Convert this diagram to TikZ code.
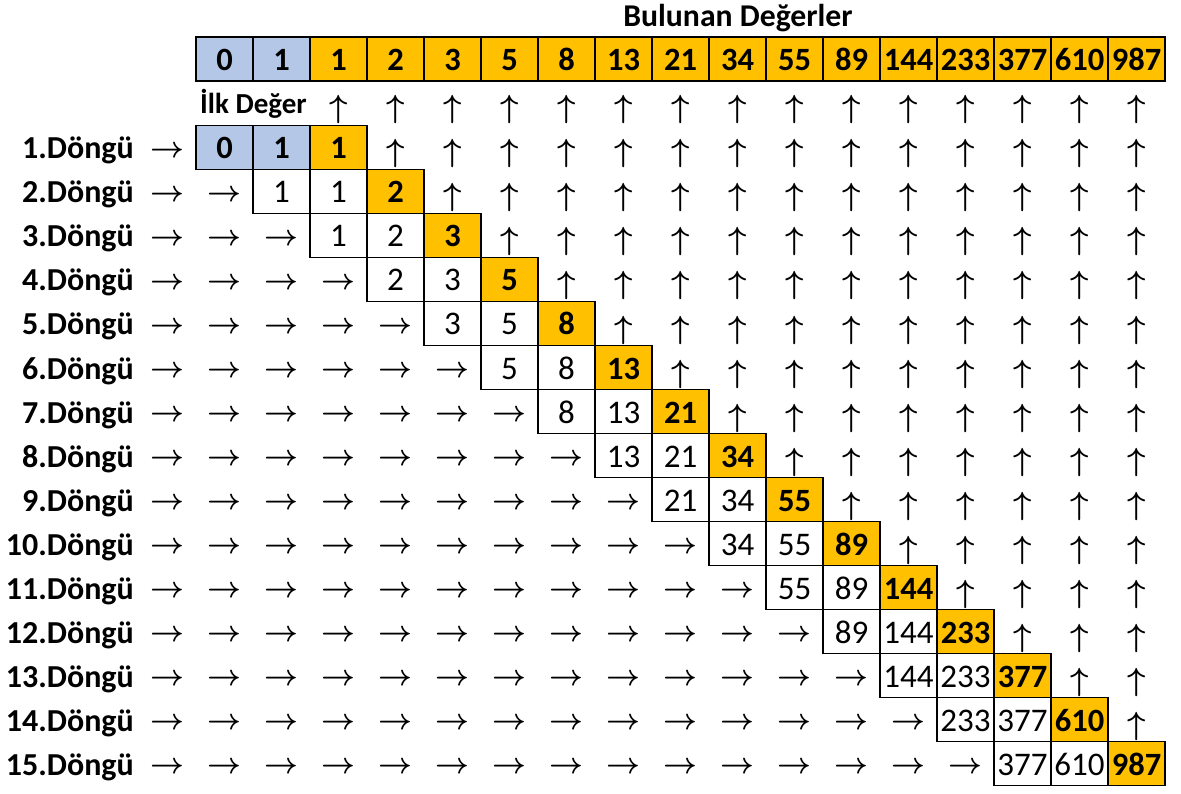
\documentclass[tikz,border=0pt]{standalone}
\usepackage{graphicx}
\usepackage{fontspec}
\setmainfont{Carlito}
\definecolor{cblue}{HTML}{B4C7E7}
\definecolor{corange}{HTML}{FFC000}
\newcommand{\rarr}{\scalebox{2.95}{\boldmath$\rightarrow$}}
\newcommand{\uarr}{\scalebox{3.2}{\boldmath$\uparrow$}}
\tikzset{
  cell/.style={draw=black, line width=1.3pt, minimum width=57pt, minimum height=44pt,
    inner sep=0pt, text height=23pt, text depth=0pt, font=\fontsize{33}{33}\selectfont},
  bluecell/.style={cell, fill=cblue, font=\fontsize{32.5}{32.5}\selectfont\bfseries},
  orangecell/.style={cell, fill=corange, font=\fontsize{32.5}{32.5}\selectfont\bfseries},
  lab/.style={inner sep=0pt, anchor=base east, font=\fontsize{32}{32}\selectfont\bfseries},
  arr/.style={inner sep=0pt, font=\normalsize},
}
\begin{document}
\begin{tikzpicture}[x=1pt,y=-1pt]
\useasboundingbox (0,0) rectangle (1181,794);
\node[inner sep=0pt, anchor=base, font=\fontsize{31.7}{31.7}\selectfont\bfseries] (title) at (738,27) {Bulunan Değerler};
% top bar
\foreach \v [count=\i from 0] in {0,1,1,2,3,5,8,13,21,34,55,89,144,233,377,610,987}{
  \pgfmathsetmacro\cx{224.5+57*\i}
  \ifnum\i<2
    \node[bluecell] (t\i) at (\cx,59) {\v};
  \else
    \node[orangecell] (t\i) at (\cx,59) {\v};
  \fi
}
\node[inner sep=0pt, anchor=base west, font=\fontsize{29}{29}\selectfont\bfseries] (ilk) at (200,114) {İlk Değer};
% rows
\foreach \a/\b/\c [count=\k] in {0/1/1,1/1/2,1/2/3,2/3/5,3/5/8,5/8/13,8/13/21,13/21/34,21/34/55,34/55/89,55/89/144,89/144/233,144/233/377,233/377/610,377/610/987}{
  \pgfmathsetmacro\cy{147.5+44*(\k-1)}
  \pgfmathsetmacro\xa{224.5+57*(\k-1)}
  \pgfmathsetmacro\xb{224.5+57*\k}
  \pgfmathsetmacro\xc{224.5+57*(\k+1)}
  \pgfmathsetmacro\by{\cy+11.5}
  \node[lab] (lab\k) at (134,\by) {\k.Döngü};
  \ifnum\k=1
    \node[bluecell] (r\k-1) at (\xa,\cy) {\a};
    \node[bluecell] (r\k-2) at (\xb,\cy) {\b};
  \else
    \node[cell] (r\k-1) at (\xa,\cy) {\a};
    \node[cell] (r\k-2) at (\xb,\cy) {\b};
  \fi
  \node[orangecell] (r\k-3) at (\xc,\cy) {\c};
  % right arrows
  \pgfmathtruncatemacro\last{\k-2}
  \pgfmathsetmacro\ry{\cy+4.5}
  \foreach \m in {-1,...,\last}{
    \pgfmathsetmacro\ax{224.5+57*\m}
    \node[arr] (ar\k-\m) at (\ax,\ry) {\rarr};
  }
}
% up arrows
\foreach \k in {0,...,14}{
  \pgfmathtruncatemacro\s{\k+2}
  \pgfmathsetmacro\uy{110+44*\k}
  \foreach \m in {\s,...,16}{
    \pgfmathsetmacro\ax{224.5+57*\m}
    \node[arr] (au\k-\m) at (\ax,\uy) {\uarr};
  }
}
\end{tikzpicture}
\end{document}
